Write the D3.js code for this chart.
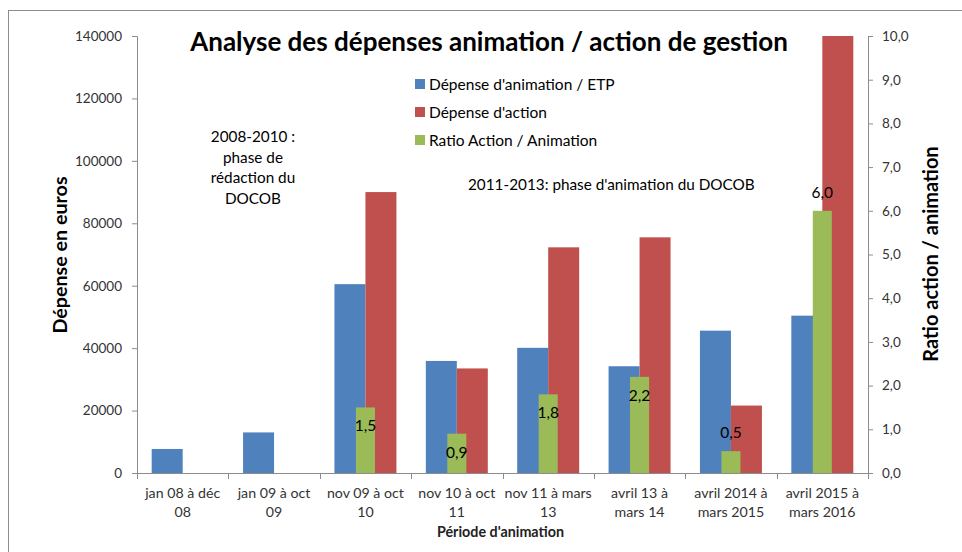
<!DOCTYPE html>
<html>
<head>
<meta charset="utf-8">
<script src="https://cdn.jsdelivr.net/npm/d3@7"></script>
<style>
  body { margin: 0; background: #fff; }
  text { font-family: Lato, "Open Sans", sans-serif; }
</style>
</head>
<body>
<svg id="chart" width="962" height="552"></svg>
<script>
// periods, two lines each like in the spreadsheet
var periods = [
  ["jan 08 à déc", "08"],
  ["jan 09 à oct", "09"],
  ["nov 09 à oct", "10"],
  ["nov 10 à oct", "11"],
  ["nov 11 à mars", "13"],
  ["avril 13 à", "mars 14"],
  ["avril 2014 à", "mars 2015"],
  ["avril 2015 à", "mars 2016"]
];
var animation = [7700, 13000, 60500, 35900, 40100, 34200, 45600, 50400];
var action = [null, null, 90000, 33500, 72300, 75500, 21600, 140000];
var ratio = [null, null, 1.5, 0.9, 1.8, 2.2, 0.5, 6.0];
var euroTicks = [0, 20000, 40000, 60000, 80000, 100000, 120000, 140000];
var ratioTicks = [0, 1, 2, 3, 4, 5, 6, 7, 8, 9, 10];
var legendNames = ["Dépense d'animation / ETP", "Dépense d'action", "Ratio Action / Animation"];
var colors = ["#4F81BD", "#C0504D", "#9BBB59"];

var svg = d3.select("#chart");

// frame of the chart object
svg.append("rect")
  .attr("x", 8.5).attr("y", 10.5)
  .attr("width", 1000).attr("height", 600)
  .attr("fill", "none").attr("stroke", "#8c8c8c");

var x = d3.scaleBand().domain(d3.range(periods.length)).range([137, 868]);
var pair = d3.scaleBand().domain([0, 1]).range([0, x.bandwidth()]).paddingOuter(0.474);
var single = d3.scaleBand().domain([0]).range([0, x.bandwidth()]).paddingOuter(1.9);
var yL = d3.scaleLinear().domain([0, 140000]).range([473, 36]);
var yR = d3.scaleLinear().domain([0, 10]).range([473, 36]);

var fmtRatio = function(v) { return d3.format(".1f")(v).replace(".", ","); };

// left axis
var gL = svg.append("g")
  .attr("transform", "translate(137,0)")
  .call(d3.axisLeft(yL).tickValues(euroTicks).tickSize(5).tickPadding(10).tickFormat(d3.format("d")));
// right axis
var gR = svg.append("g")
  .attr("transform", "translate(868,0)")
  .call(d3.axisRight(yR).tickValues(ratioTicks).tickSize(5).tickPadding(9).tickFormat(fmtRatio));

[gL, gR].forEach(function(g) {
  g.select(".domain").attr("stroke", "#8c8c8c");
  g.selectAll(".tick line").attr("stroke", "#8c8c8c");
  g.selectAll(".tick text").attr("fill", "#333").style("font-size", "13.5px");
});

// bars on primary axis
var series = [animation, action];
series.forEach(function(values, s) {
  svg.append("g").selectAll("rect")
    .data(values.map(function(v, i) { return {i: i, v: v}; }).filter(function(d) { return d.v != null; }))
    .enter().append("rect")
      .attr("x", function(d) { return x(d.i) + pair(s); })
      .attr("y", function(d) { return yL(d.v); })
      .attr("width", pair.bandwidth())
      .attr("height", function(d) { return yL(0) - yL(d.v); })
      .attr("fill", colors[s]);
});

// ratio bars on secondary axis
var ratioData = ratio.map(function(v, i) { return {i: i, v: v}; })
  .filter(function(d) { return d.v != null; });

svg.append("g").selectAll("rect")
  .data(ratioData)
  .enter().append("rect")
    .attr("x", function(d) { return x(d.i) + single(0); })
    .attr("y", function(d) { return yR(d.v); })
    .attr("width", single.bandwidth())
    .attr("height", function(d) { return yR(0) - yR(d.v); })
    .attr("fill", colors[2]);

svg.append("g").selectAll("text")
  .data(ratioData)
  .enter().append("text")
    .attr("x", function(d) { return x(d.i) + x.bandwidth() / 2; })
    .attr("y", function(d) {
      // small and very tall bars get their label above
      if (d.v < 0.7 || d.v > 5) return yR(d.v) - 13;
      return yR(d.v) + 24;
    })
    .attr("text-anchor", "middle")
    .style("font-size", "15.5px")
    .attr("fill", "#000")
    .text(function(d) { return fmtRatio(d.v); });

// category axis
svg.append("line")
  .attr("x1", 137).attr("x2", 868).attr("y1", 473.5).attr("y2", 473.5)
  .attr("stroke", "#8c8c8c");
svg.append("g").selectAll("line")
  .data(d3.range(periods.length + 1))
  .enter().append("line")
    .attr("x1", function(i) { return Math.round(x.range()[0] + i * x.step()) + 0.5; })
    .attr("x2", function(i) { return Math.round(x.range()[0] + i * x.step()) + 0.5; })
    .attr("y1", 473).attr("y2", 479)
    .attr("stroke", "#8c8c8c");

var cat = svg.append("g").selectAll("text")
  .data(periods)
  .enter().append("text")
    .attr("text-anchor", "middle")
    .attr("fill", "#333")
    .style("font-size", "14.2px");
cat.append("tspan")
  .attr("x", function(d, i) { return x(i) + x.bandwidth() / 2; })
  .attr("y", 498)
  .text(function(d) { return d[0]; });
cat.append("tspan")
  .attr("x", function(d, i) { return x(i) + x.bandwidth() / 2; })
  .attr("y", 517)
  .text(function(d) { return d[1]; });

// titles
svg.append("text")
  .attr("x", 489).attr("y", 51)
  .attr("text-anchor", "middle")
  .style("font-size", "26px").style("font-weight", "bold")
  .text("Analyse des dépenses animation / action de gestion");

svg.append("text")
  .attr("transform", "translate(67,255) rotate(-90)")
  .attr("text-anchor", "middle")
  .style("font-size", "19.7px").style("font-weight", "bold")
  .text("Dépense en euros");

svg.append("text")
  .attr("transform", "translate(938,254) rotate(-90)")
  .attr("text-anchor", "middle")
  .style("font-size", "20px").style("font-weight", "bold")
  .text("Ratio action / animation");

svg.append("text")
  .attr("x", 500.5).attr("y", 536.5)
  .attr("text-anchor", "middle")
  .style("font-size", "14.3px").style("font-weight", "bold")
  .attr("fill", "#222")
  .text("Période d'animation");

// legend
var leg = svg.append("g").selectAll("g")
  .data(legendNames)
  .enter().append("g")
    .attr("transform", function(d, i) { return "translate(415," + (84 + i * 28) + ")"; });
leg.append("rect")
  .attr("x", 0).attr("y", -5).attr("width", 10).attr("height", 10)
  .attr("fill", function(d, i) { return colors[i]; });
leg.append("text")
  .attr("x", 14).attr("y", 5.5)
  .style("font-size", "15.5px")
  .text(function(d) { return d; });

// phase notes
var note1 = ["2008-2010 :", "phase de", "rédaction du", "DOCOB"];
svg.append("g").selectAll("text")
  .data(note1)
  .enter().append("text")
    .attr("x", 253)
    .attr("y", function(d, i) { return 142 + i * 20.5; })
    .attr("text-anchor", "middle")
    .style("font-size", "15.3px")
    .text(function(d) { return d; });

svg.append("text")
  .attr("x", 468).attr("y", 189.5)
  .style("font-size", "15.3px")
  .text("2011-2013: phase d'animation du DOCOB");
</script>
</body>
</html>
